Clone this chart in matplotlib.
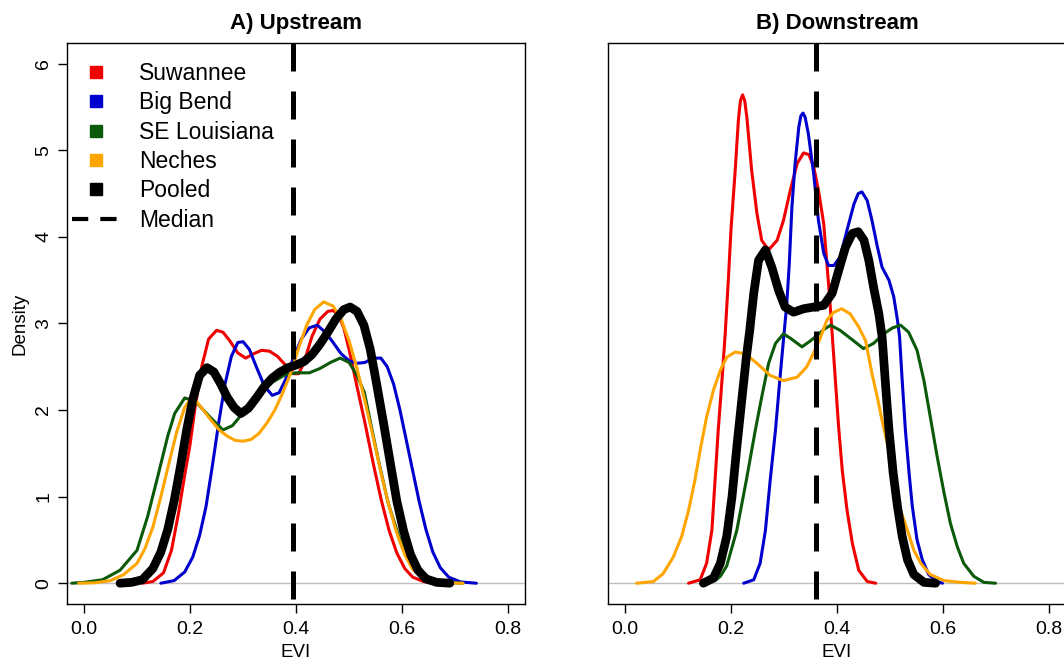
import matplotlib
matplotlib.use("Agg")
import matplotlib.pyplot as plt
from matplotlib.lines import Line2D
from matplotlib.ticker import FormatStrFormatter

plt.rcParams['font.family'] = ['Liberation Sans', 'DejaVu Sans']

regions = ["Suwannee", "Big Bend", "SE Louisiana", "Neches", "Pooled"]
colors = ["#F00000", "#0000CD", "#0A5A0A", "#FFA500", "black"]
widths = [2.2, 2.2, 2.2, 2.2, 6.3]
panel_titles = ["A) Upstream", "B) Downstream"]
medians = [0.395, 0.361]
x_ticks = [0.0, 0.2, 0.4, 0.6, 0.8]
y_ticks = [0, 1, 2, 3, 4, 5, 6]

# upstream kernel densities (EVI -> density)
up_suw_x = [0.11, 0.13, 0.15, 0.165, 0.178, 0.19, 0.20, 0.21, 0.222, 0.235,
            0.25, 0.262, 0.275, 0.29, 0.305, 0.32, 0.335, 0.35, 0.365, 0.38,
            0.395, 0.405, 0.415, 0.43, 0.445, 0.46, 0.47, 0.48, 0.49, 0.50,
            0.515, 0.53, 0.545, 0.56, 0.575, 0.59, 0.605, 0.62, 0.64, 0.66]
up_suw_y = [0.0, 0.02, 0.12, 0.38, 0.8, 1.25, 1.6, 2.05, 2.5, 2.82,
            2.92, 2.9, 2.8, 2.66, 2.6, 2.65, 2.69, 2.68, 2.62, 2.52,
            2.42, 2.42, 2.55, 2.85, 3.05, 3.14, 3.15, 3.1, 2.95, 2.7,
            2.27, 1.85, 1.4, 0.98, 0.62, 0.35, 0.17, 0.07, 0.02, 0.0]

up_big_x = [0.145, 0.17, 0.19, 0.205, 0.218, 0.23, 0.242, 0.254, 0.266, 0.278,
            0.29, 0.30, 0.312, 0.325, 0.34, 0.355, 0.368, 0.38, 0.395, 0.41,
            0.425, 0.44, 0.455, 0.47, 0.485, 0.50, 0.515, 0.53, 0.545, 0.56,
            0.572, 0.584, 0.596, 0.608, 0.62, 0.632, 0.645, 0.658, 0.672, 0.688,
            0.71, 0.74]
up_big_y = [0.0, 0.03, 0.13, 0.3, 0.55, 0.88, 1.35, 1.85, 2.3, 2.62,
            2.78, 2.79, 2.7, 2.5, 2.28, 2.17, 2.2, 2.35, 2.6, 2.82,
            2.95, 2.98, 2.9, 2.78, 2.65, 2.57, 2.54, 2.55, 2.6, 2.6,
            2.5, 2.3, 2.0, 1.65, 1.3, 0.95, 0.62, 0.36, 0.18, 0.07,
            0.015, 0.0]

up_sel_x = [-0.023, 0.0, 0.035, 0.068, 0.1, 0.12, 0.139, 0.158, 0.171, 0.19,
            0.21, 0.236, 0.262, 0.28, 0.295, 0.315, 0.334, 0.355, 0.38, 0.40,
            0.425, 0.445, 0.465, 0.483, 0.50, 0.515, 0.529, 0.542, 0.555, 0.574,
            0.594, 0.62, 0.652, 0.68, 0.714]
up_sel_y = [0.0, 0.01, 0.04, 0.15, 0.38, 0.77, 1.23, 1.70, 1.96, 2.14,
            2.10, 1.93, 1.77, 1.82, 1.93, 2.08, 2.2, 2.32, 2.41, 2.43,
            2.43, 2.48, 2.55, 2.6, 2.55, 2.4, 2.2, 1.81, 1.43, 0.92,
            0.54, 0.23, 0.06, 0.01, 0.0]

up_nec_x = [-0.01, 0.02, 0.05, 0.075, 0.1, 0.115, 0.13, 0.145, 0.16, 0.175,
            0.19, 0.2, 0.212, 0.225, 0.24, 0.255, 0.27, 0.285, 0.30, 0.315,
            0.33, 0.345, 0.36, 0.375, 0.39, 0.405, 0.42, 0.435, 0.452, 0.47,
            0.485, 0.50, 0.515, 0.53, 0.545, 0.56, 0.575, 0.59, 0.605, 0.62,
            0.64, 0.665, 0.69, 0.715]
up_nec_y = [0.0, 0.005, 0.03, 0.1, 0.23, 0.4, 0.65, 1.0, 1.38, 1.75,
            2.03, 2.12, 2.1, 2.0, 1.88, 1.77, 1.7, 1.65, 1.64, 1.66,
            1.73, 1.85, 2.0, 2.2, 2.43, 2.72, 2.98, 3.16, 3.25, 3.2,
            3.05, 2.8, 2.48, 2.1, 1.7, 1.28, 0.9, 0.58, 0.33, 0.16,
            0.06, 0.015, 0.003, 0.0]

up_pool_x = [0.068, 0.09, 0.11, 0.13, 0.145, 0.158, 0.17, 0.182, 0.194, 0.205,
             0.218, 0.232, 0.245, 0.258, 0.27, 0.283, 0.296, 0.31, 0.325, 0.34,
             0.355, 0.37, 0.385, 0.40, 0.415, 0.43, 0.445, 0.46, 0.475, 0.49,
             0.502, 0.515, 0.528, 0.54, 0.552, 0.565, 0.578, 0.59, 0.603, 0.616,
             0.63, 0.645, 0.665, 0.69]
up_pool_y = [0.0, 0.01, 0.04, 0.17, 0.36, 0.62, 0.95, 1.35, 1.78, 2.12,
             2.4, 2.49, 2.44, 2.3, 2.15, 2.03, 1.96, 2.02, 2.14, 2.27,
             2.37, 2.44, 2.49, 2.52, 2.56, 2.64, 2.76, 2.9, 3.05, 3.16,
             3.19, 3.14, 2.98, 2.7, 2.3, 1.85, 1.38, 0.95, 0.6, 0.33,
             0.15, 0.05, 0.01, 0.0]

# downstream kernel densities
down_suw_x = [0.12, 0.142, 0.154, 0.164, 0.17, 0.176, 0.183, 0.189, 0.195, 0.20,
              0.208, 0.214, 0.218, 0.222, 0.226, 0.23, 0.239, 0.249, 0.258, 0.271,
              0.287, 0.299, 0.312, 0.325, 0.337, 0.347, 0.356, 0.365, 0.375, 0.381,
              0.386, 0.391, 0.397, 0.403, 0.41, 0.419, 0.429, 0.441, 0.457, 0.473]
down_suw_y = [0.0, 0.04, 0.23, 0.61, 1.19, 1.77, 2.34, 2.87, 3.5, 4.08,
              4.77, 5.35, 5.58, 5.64, 5.57, 5.38, 4.77, 4.27, 3.96, 3.85,
              3.96, 4.19, 4.54, 4.85, 4.97, 4.95, 4.81, 4.54, 4.15, 3.69,
              3.31, 2.87, 2.34, 1.81, 1.30, 0.84, 0.46, 0.15, 0.02, 0.0]

down_big_x = [0.224, 0.243, 0.255, 0.265, 0.274, 0.284, 0.292, 0.299, 0.305, 0.31,
              0.315, 0.321, 0.328, 0.332, 0.336, 0.34, 0.346, 0.356, 0.365, 0.375,
              0.384, 0.394, 0.406, 0.419, 0.432, 0.44, 0.447, 0.457, 0.466, 0.476,
              0.485, 0.498, 0.507, 0.514, 0.518, 0.523, 0.529, 0.536, 0.542, 0.551,
              0.561, 0.573, 0.589, 0.599]
down_big_y = [0.0, 0.04, 0.23, 0.61, 1.19, 1.77, 2.34, 2.81, 3.2, 3.69,
              4.35, 4.85, 5.27, 5.4, 5.43, 5.38, 5.19, 4.73, 4.19, 3.81,
              3.67, 3.67, 3.77, 4.08, 4.38, 4.5, 4.52, 4.42, 4.19, 3.89,
              3.65, 3.5, 3.31, 3.04, 2.85, 2.34, 1.77, 1.27, 0.89, 0.5,
              0.27, 0.1, 0.02, 0.0]

down_sel_x = [0.15, 0.17, 0.18, 0.192, 0.211, 0.229, 0.246, 0.258, 0.271, 0.284,
              0.299, 0.312, 0.334, 0.35, 0.362, 0.375, 0.388, 0.406, 0.425, 0.45,
              0.469, 0.488, 0.505, 0.52, 0.535, 0.551, 0.564, 0.576, 0.589, 0.602,
              0.614, 0.627, 0.639, 0.658, 0.677, 0.699]
down_sel_y = [0.0, 0.03, 0.08, 0.2, 0.61, 1.19, 1.77, 2.15, 2.54, 2.77,
              2.88, 2.83, 2.73, 2.8, 2.86, 2.93, 2.98, 2.92, 2.83, 2.71,
              2.77, 2.88, 2.95, 2.98, 2.9, 2.69, 2.34, 1.92, 1.46, 1.04,
              0.69, 0.42, 0.23, 0.08, 0.01, 0.0]

down_nec_x = [0.022, 0.054, 0.072, 0.091, 0.107, 0.12, 0.132, 0.142, 0.154, 0.167,
              0.18, 0.192, 0.208, 0.227, 0.249, 0.274, 0.299, 0.325, 0.343, 0.356,
              0.369, 0.381, 0.394, 0.409, 0.425, 0.441, 0.454, 0.466, 0.476, 0.485,
              0.495, 0.507, 0.52, 0.533, 0.545, 0.558, 0.576, 0.602, 0.633, 0.661]
down_nec_y = [0.0, 0.02, 0.11, 0.3, 0.54, 0.84, 1.19, 1.54, 1.92, 2.23,
              2.46, 2.61, 2.67, 2.65, 2.54, 2.4, 2.34, 2.38, 2.5, 2.66,
              2.84, 3.04, 3.13, 3.17, 3.11, 2.96, 2.8, 2.42, 2.15, 1.88,
              1.61, 1.19, 0.84, 0.61, 0.38, 0.23, 0.1, 0.03, 0.01, 0.0]

down_pool_x = [0.148, 0.167, 0.18, 0.192, 0.202, 0.211, 0.221, 0.229, 0.235, 0.243,
               0.252, 0.265, 0.277, 0.29, 0.302, 0.318, 0.337, 0.356, 0.375, 0.391,
               0.403, 0.416, 0.429, 0.44, 0.451, 0.46, 0.469, 0.479, 0.485, 0.491,
               0.498, 0.506, 0.514, 0.523, 0.533, 0.545, 0.564, 0.586]
down_pool_y = [0.0, 0.06, 0.23, 0.54, 1.0, 1.57, 2.15, 2.61, 2.9, 3.35,
               3.73, 3.85, 3.65, 3.38, 3.19, 3.13, 3.17, 3.19, 3.21, 3.35,
               3.61, 3.88, 4.04, 4.06, 3.96, 3.73, 3.42, 3.11, 2.85, 2.34,
               1.77, 1.27, 0.89, 0.54, 0.27, 0.1, 0.01, 0.0]

upstream = [(up_suw_x, up_suw_y), (up_big_x, up_big_y), (up_sel_x, up_sel_y),
            (up_nec_x, up_nec_y), (up_pool_x, up_pool_y)]
downstream = [(down_suw_x, down_suw_y), (down_big_x, down_big_y), (down_sel_x, down_sel_y),
              (down_nec_x, down_nec_y), (down_pool_x, down_pool_y)]


def draw_panel(ax, curves, median, title, first):
    # grey zero line like plot.density
    ax.axhline(0, color="#BEBEBE", lw=1, zorder=1)
    for (x, y), c, w in zip(curves, colors, widths):
        ax.plot(x, y, color=c, lw=w, solid_joinstyle="round", solid_capstyle="round", zorder=2)
    # median, dashes start at the top like R's abline
    ax.axvline(median, ymin=1, ymax=0, color="black", lw=3.6, dashes=(5.6, 4.0), zorder=3)

    ax.set_xlim(-0.032, 0.832)
    ax.set_ylim(-0.24, 6.24)
    ax.set_xticks(x_ticks)
    ax.xaxis.set_major_formatter(FormatStrFormatter("%.1f"))
    ax.tick_params(axis="both", direction="out", length=6.5, width=1, labelsize=14)
    ax.tick_params(axis="x", pad=6)
    ax.tick_params(axis="y", pad=4)
    ax.set_xlabel("EVI", fontsize=13.5, labelpad=4)
    ax.set_title(title, fontsize=16, fontweight="bold", pad=10)
    for s in ax.spines.values():
        s.set_linewidth(1)
    if first:
        ax.set_yticks(y_ticks)
        for lab in ax.get_yticklabels():
            lab.set_rotation(90)
            lab.set_va("center")
        ax.set_ylabel("Density", fontsize=13.5, labelpad=5)
    else:
        ax.set_yticks([])


fig = plt.figure(figsize=(10.64, 6.63), dpi=100)
# both panels the same size, the right one runs past the picture edge
ax1 = fig.add_axes([0.0630, 0.0890, 0.4305, 0.8462])
ax2 = fig.add_axes([0.5714, 0.0890, 0.4305, 0.8462])

draw_panel(ax1, upstream, medians[0], panel_titles[0], True)
draw_panel(ax2, downstream, medians[1], panel_titles[1], False)

handles = [Line2D([], [], ls="none", marker="s", markersize=8, color=c) for c in colors]
handles.append(Line2D([], [], color="black", lw=3, dashes=(3.9, 2.9)))
ax1.legend(handles, regions + ["Median"], loc="upper left", bbox_to_anchor=(0.011, 0.966),
           frameon=False, fontsize=16.5, borderpad=0, borderaxespad=0,
           handlelength=2.05, handletextpad=0.87, labelspacing=0.275)

fig.savefig("out.png", dpi=100)
